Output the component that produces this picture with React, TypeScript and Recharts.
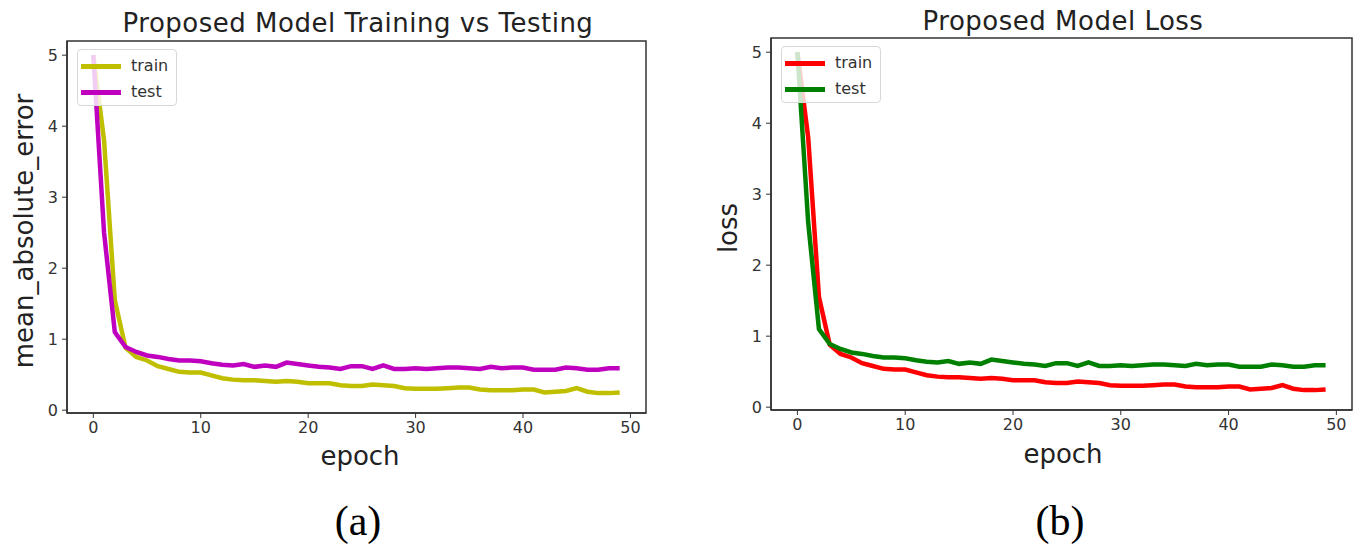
import React from 'react';
import { LineChart, Line, XAxis, YAxis, ReferenceArea } from 'recharts';

const epochs = [
  0, 1, 2, 3, 4, 5, 6, 7, 8, 9, 10, 11, 12, 13, 14, 15, 16, 17, 18, 19, 20, 21, 22, 23, 24,
  25, 26, 27, 28, 29, 30, 31, 32, 33, 34, 35, 36, 37, 38, 39, 40, 41, 42, 43, 44, 45, 46, 47, 48, 49,
];

const maeTrain = [
  5.0, 3.8, 1.55, 0.88, 0.75, 0.7, 0.62, 0.58, 0.54, 0.53, 0.53, 0.49, 0.45, 0.43, 0.42, 0.42, 0.41,
  0.4, 0.41, 0.4, 0.38, 0.38, 0.38, 0.35, 0.34, 0.34, 0.36, 0.35, 0.34, 0.31, 0.3, 0.3, 0.3, 0.31,
  0.32, 0.32, 0.29, 0.28, 0.28, 0.28, 0.29, 0.29, 0.25, 0.26, 0.27, 0.31, 0.26, 0.24, 0.24, 0.25,
];
const maeTest = [
  5.0, 2.5, 1.1, 0.89, 0.82, 0.77, 0.75, 0.72, 0.7, 0.7, 0.69, 0.66, 0.64, 0.63, 0.65, 0.61, 0.63,
  0.61, 0.67, 0.65, 0.63, 0.61, 0.6, 0.58, 0.62, 0.62, 0.58, 0.63, 0.58, 0.58, 0.59, 0.58, 0.59, 0.6,
  0.6, 0.59, 0.58, 0.61, 0.59, 0.6, 0.6, 0.57, 0.57, 0.57, 0.6, 0.59, 0.57, 0.57, 0.59, 0.59,
];

const lossTrain = [
  5.0, 3.8, 1.55, 0.88, 0.75, 0.7, 0.62, 0.58, 0.54, 0.53, 0.53, 0.49, 0.45, 0.43, 0.42, 0.42, 0.41,
  0.4, 0.41, 0.4, 0.38, 0.38, 0.38, 0.35, 0.34, 0.34, 0.36, 0.35, 0.34, 0.31, 0.3, 0.3, 0.3, 0.31,
  0.32, 0.32, 0.29, 0.28, 0.28, 0.28, 0.29, 0.29, 0.25, 0.26, 0.27, 0.31, 0.26, 0.24, 0.24, 0.25,
];
const lossTest = [
  5.0, 2.6, 1.1, 0.89, 0.82, 0.77, 0.75, 0.72, 0.7, 0.7, 0.69, 0.66, 0.64, 0.63, 0.65, 0.61, 0.63,
  0.61, 0.67, 0.65, 0.63, 0.61, 0.6, 0.58, 0.62, 0.62, 0.58, 0.63, 0.58, 0.58, 0.59, 0.58, 0.59, 0.6,
  0.6, 0.59, 0.58, 0.61, 0.59, 0.6, 0.6, 0.57, 0.57, 0.57, 0.6, 0.59, 0.57, 0.57, 0.59, 0.59,
];

const xTicks = [0, 10, 20, 30, 40, 50];
const yTicks = [0, 1, 2, 3, 4, 5];
const seriesNames = ['train', 'test'];

const FONT = '"DejaVu Sans", sans-serif';
const INK = '#333';
const X_DOMAIN = [-2.45, 51.45];
const Y_DOMAIN = [-0.04, 5.2];

function buildRows(train: number[], test: number[]) {
  return epochs.map((e, i) => ({ epoch: e, train: train[i], test: test[i] }));
}

// matplotlib-style legend box, upper left
function LegendBox({ colors, left, top }: { colors: string[]; left: number; top: number }) {
  return (
    <div
      style={{
        position: 'absolute',
        left,
        top,
        width: 100,
        height: 57,
        boxSizing: 'border-box',
        border: '1px solid #d8d8d8',
        borderRadius: 4,
        background: 'rgba(255,255,255,0.8)',
        padding: '3px 0 0 3px',
        fontFamily: FONT,
        fontSize: 16,
        color: INK,
      }}
    >
      {seriesNames.map((name, i) => (
        <div key={name} style={{ display: 'flex', alignItems: 'center', height: 26 }}>
          <span style={{ width: 40, height: 5, background: colors[i], marginRight: 10 }} />
          <span style={{ lineHeight: '16px' }}>{name}</span>
        </div>
      ))}
    </div>
  );
}

function Panel({ rows, trainColor, testColor, width, margin }: {
  rows: { epoch: number; train: number; test: number }[];
  trainColor: string;
  testColor: string;
  width: number;
  margin: { top: number; right: number; bottom: number; left: number };
}) {
  const tick = { fill: INK, fontSize: 16, fontFamily: FONT };
  return (
    <LineChart width={width} height={480} data={rows} margin={margin}>
      <XAxis
        dataKey="epoch"
        type="number"
        domain={X_DOMAIN}
        ticks={xTicks}
        allowDataOverflow
        height={30}
        tick={tick}
        tickSize={5}
        tickMargin={4}
        axisLine={{ stroke: INK, strokeWidth: 1.5 }}
        tickLine={{ stroke: INK }}
      />
      <YAxis
        type="number"
        domain={Y_DOMAIN}
        ticks={yTicks}
        allowDataOverflow
        width={30}
        tick={tick}
        tickSize={5}
        tickMargin={4}
        axisLine={{ stroke: INK, strokeWidth: 1.5 }}
        tickLine={{ stroke: INK }}
      />
      <ReferenceArea
        x1={X_DOMAIN[0]}
        x2={X_DOMAIN[1]}
        y1={Y_DOMAIN[0]}
        y2={Y_DOMAIN[1]}
        fill="none"
        stroke={INK}
        strokeWidth={1.5}
        ifOverflow="visible"
      />
      <Line
        type="linear"
        dataKey="train"
        name="train"
        stroke={trainColor}
        strokeWidth={4.5}
        dot={false}
        activeDot={false}
        isAnimationActive={false}
      />
      <Line
        type="linear"
        dataKey="test"
        name="test"
        stroke={testColor}
        strokeWidth={4.5}
        dot={false}
        activeDot={false}
        isAnimationActive={false}
      />
    </LineChart>
  );
}

const textStyle = (size: number, family = FONT): React.CSSProperties => ({
  position: 'absolute',
  fontFamily: family,
  fontSize: size,
  lineHeight: 1,
  color: '#222',
  whiteSpace: 'nowrap',
});

export default function App() {
  return (
    <div style={{ position: 'absolute', left: 0, top: 0, width: 1362, height: 544, background: '#fff', overflow: 'hidden' }}>
      <div style={{ position: 'absolute', left: 0, top: 0 }}>
        <Panel
          rows={buildRows(maeTrain, maeTest)}
          trainColor="#bfbf00"
          testColor="#bf00bf"
          width={680}
          margin={{ top: 41, right: 34, bottom: 37, left: 37 }}
        />
        <LegendBox colors={['#bfbf00', '#bf00bf']} left={77} top={49} />
      </div>
      <div style={{ position: 'absolute', left: 700, top: 0 }}>
        <Panel
          rows={buildRows(lossTrain, lossTest)}
          trainColor="#ff0000"
          testColor="#008000"
          width={662}
          margin={{ top: 38, right: 10, bottom: 40, left: 41 }}
        />
        <LegendBox colors={['#ff0000', '#008000']} left={81} top={46} />
      </div>

      <div style={{ ...textStyle(26), left: 358, top: 10, transform: 'translateX(-50%)', letterSpacing: 0.5 }}>
        Proposed Model Training vs Testing
      </div>
      <div style={{ ...textStyle(26), left: 1063, top: 8, transform: 'translateX(-50%)', letterSpacing: 0.5 }}>
        Proposed Model Loss
      </div>

      <div style={{ ...textStyle(26), left: 24, top: 231, transform: 'translate(-50%, -50%) rotate(-90deg)' }}>
        mean_absolute_error
      </div>
      <div style={{ ...textStyle(26), left: 728, top: 228, transform: 'translate(-50%, -50%) rotate(-90deg)' }}>
        loss
      </div>

      <div style={{ ...textStyle(26), left: 360, top: 443, transform: 'translateX(-50%)' }}>epoch</div>
      <div style={{ ...textStyle(26), left: 1063, top: 441, transform: 'translateX(-50%)' }}>epoch</div>

      <div style={{ ...textStyle(42, '"Liberation Serif", "Times New Roman", serif'), left: 358, top: 500, transform: 'translateX(-50%)', color: '#000' }}>
        (a)
      </div>
      <div style={{ ...textStyle(42, '"Liberation Serif", "Times New Roman", serif'), left: 1060, top: 500, transform: 'translateX(-50%)', color: '#000' }}>
        (b)
      </div>
    </div>
  );
}
